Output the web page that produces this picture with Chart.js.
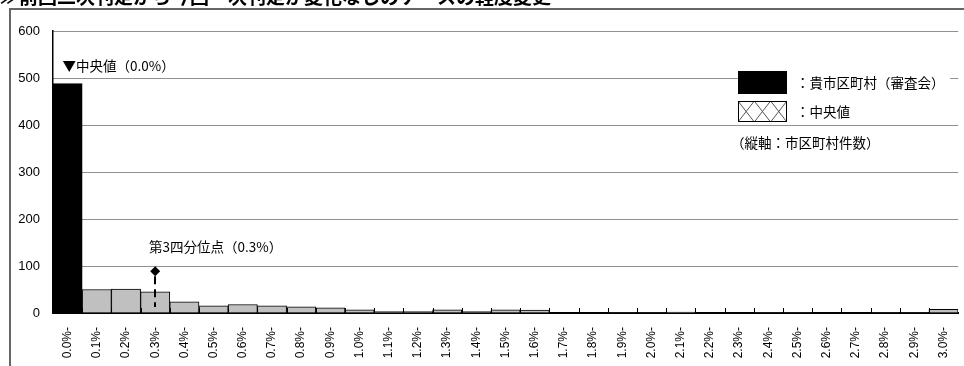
<!DOCTYPE html>
<html>
<head>
<meta charset="utf-8">
<script src="https://cdn.jsdelivr.net/npm/chart.js@4"></script>
<style>
  body { margin: 0; background: #fff; }
  #wrap { width: 964px; height: 366px; }
</style>
</head>
<body>
<div id="wrap"><canvas id="hist" width="964" height="366"></canvas></div>
<script>
// categories (x axis), counts per category, reference markers
const categories = ['0.0%-', '0.1%-', '0.2%-', '0.3%-', '0.4%-', '0.5%-', '0.6%-', '0.7%-', '0.8%-', '0.9%-',
                    '1.0%-', '1.1%-', '1.2%-', '1.3%-', '1.4%-', '1.5%-', '1.6%-', '1.7%-', '1.8%-', '1.9%-',
                    '2.0%-', '2.1%-', '2.2%-', '2.3%-', '2.4%-', '2.5%-', '2.6%-', '2.7%-', '2.8%-', '2.9%-', '3.0%-'];
const counts = [488, 50, 51, 45, 24, 15, 18, 15, 13, 11,
                7, 3, 3, 7, 3, 7, 6, 0, 0, 1,
                1, 2, 0, 0, 1, 1, 0, 0, 1, 1, 8];
const ownIndex = 0;          // 貴市区町村 falls in this class
const medianIndex = 0;
const quartileIndex = 3;
const quartileMarker = 89;   // height of the diamond on the y axis
const yTicks = [0, 100, 200, 300, 400, 500, 600];

const FONT = '"Liberation Sans", "Noto Sans CJK JP", sans-serif';
const JP = '"Noto Sans CJK JP", "Liberation Sans", sans-serif';

const barColors = counts.map((v, i) => i === ownIndex ? '#000000' : '#c0c0c0');
const quartileData = counts.map((v, i) => i === quartileIndex ? quartileMarker : null);

const extras = {
    id: 'extras',
    beforeDraw(chart) {
        const c = chart.ctx;
        c.save();
        c.fillStyle = '#fff';
        c.fillRect(0, 0, chart.width, chart.height);
        // frame
        c.strokeStyle = '#666';
        c.lineWidth = 2;
        c.beginPath();
        c.moveTo(10, chart.height);
        c.lineTo(10, 9);
        c.lineTo(chart.width, 9);
        c.stroke();
        // title, cut by the top edge
        c.fillStyle = '#000';
        c.font = 'bold 19px ' + JP;
        c.textBaseline = 'alphabetic';
        c.fillText('≫前回二次判定から今回一次判定が変化なしのケースの軽度変更', 0, 4);
        c.restore();
    },
    afterDatasetsDraw(chart) {
        const c = chart.ctx;
        const xs = chart.scales.x, ys = chart.scales.y;
        const base = ys.getPixelForValue(0);
        c.save();
        // inside tick marks between categories
        c.strokeStyle = '#000';
        c.lineWidth = 1;
        for (let i = 0; i < categories.length - 1; i++) {
            const x = Math.round((xs.getPixelForValue(i) + xs.getPixelForValue(i + 1)) / 2) + 0.5;
            c.beginPath();
            c.moveTo(x, base);
            c.lineTo(x, base - 5);
            c.stroke();
        }
        // median label
        c.fillStyle = '#000';
        c.font = '13.5px ' + JP;
        c.textBaseline = 'middle';
        c.textAlign = 'left';
        c.fillText('▼中央値（0.0%）', xs.getPixelForValue(medianIndex) - 5, ys.getPixelForValue(counts[medianIndex]) - 18);
        // third quartile: dashed drop line + label
        const qx = Math.round(xs.getPixelForValue(quartileIndex));
        const qy = ys.getPixelForValue(quartileMarker);
        c.lineWidth = 2;
        c.setLineDash([8, 5]);
        c.beginPath();
        c.moveTo(qx, qy + 5);
        c.lineTo(qx, base - 6);
        c.stroke();
        c.setLineDash([]);
        c.fillText('第3四分位点（0.3%）', qx - 6, qy - 24);
        // legend
        const lx = 738;
        c.fillStyle = '#fff';
        c.fillRect(lx, 71, 212, 23);
        c.fillRect(lx, 101, 100, 21);
        c.fillStyle = '#000';
        c.fillRect(lx, 71, 49, 23);
        // hatched swatch
        const hx = lx, hy = 101, hw = 49, hh = 21;
        c.save();
        c.beginPath();
        c.rect(hx, hy, hw, hh);
        c.clip();
        c.strokeStyle = '#555';
        c.lineWidth = 1;
        for (let k = -2; k < 5; k++) {
            c.beginPath();
            c.moveTo(hx + k * 16.3, hy);
            c.lineTo(hx + (k + 1) * 16.3, hy + hh);
            c.moveTo(hx + (k + 1) * 16.3, hy);
            c.lineTo(hx + k * 16.3, hy + hh);
            c.stroke();
        }
        c.restore();
        c.strokeStyle = '#000';
        c.lineWidth = 1;
        c.strokeRect(hx + 0.5, hy + 0.5, hw - 1, hh - 1);
        c.fillStyle = '#000';
        c.font = '13.5px ' + JP;
        c.fillText('：貴市区町村（審査会）', 796, 83);
        c.fillText('：中央値', 796, 112);
        c.fillText('（縦軸：市区町村件数）', 731, 143);
        c.restore();
    }
};

new Chart(document.getElementById('hist'), {
    data: {
        labels: categories,
        datasets: [
            {
                type: 'line',
                data: quartileData,
                showLine: false,
                pointStyle: 'rectRot',
                pointRadius: 5,
                backgroundColor: '#000',
                borderColor: '#000',
                borderWidth: 0
            },
            {
                type: 'bar',
                data: counts,
                backgroundColor: barColors,
                borderColor: '#000',
                borderWidth: 1,
                categoryPercentage: 1,
                barPercentage: 1
            }
        ]
    },
    options: {
        responsive: false,
        animation: false,
        layout: { padding: { top: 31, right: 0, left: 0, bottom: 0 } },
        plugins: {
            legend: { display: false },
            tooltip: { enabled: false }
        },
        scales: {
            x: {
                grid: { display: false },
                border: { display: true, color: '#000', width: 2 },
                ticks: {
                    autoSkip: false,
                    minRotation: 90,
                    maxRotation: 90,
                    padding: 6,
                    color: '#000',
                    font: { family: FONT, size: 12 }
                },
                afterFit(s) { s.height = 53; }
            },
            y: {
                min: 0,
                max: 600,
                afterBuildTicks(s) { s.ticks = yTicks.map(v => ({ value: v })); },
                grid: {
                    color: '#222',
                    drawTicks: false,
                    lineWidth: 1
                },
                border: { display: true, color: '#000', width: 1.5, dash: [1, 1] },
                ticks: {
                    padding: 13,
                    color: '#000',
                    font: { family: FONT, size: 13 }
                },
                afterFit(s) { s.width = 53; }
            }
        }
    },
    plugins: [extras]
});
</script>
</body>
</html>
